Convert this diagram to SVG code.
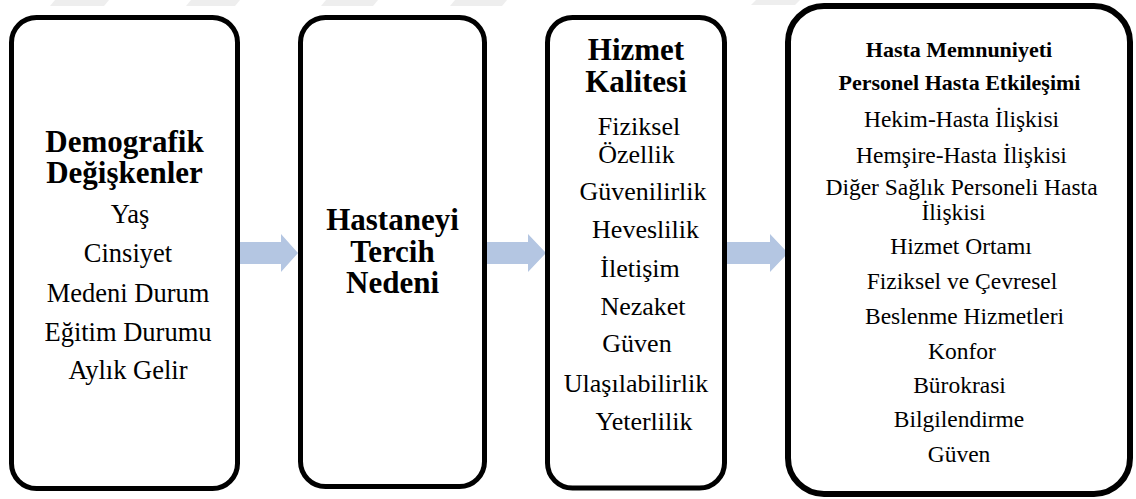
<svg xmlns="http://www.w3.org/2000/svg" width="1136" height="499" viewBox="0 0 1136 499">
  <style>
    .box { fill: #ffffff; stroke: #000000; stroke-width: 5; }
    .wide { stroke-width: 6; }
    .flow { fill: #b4c6e2; }
    .mark { fill: #eeeeee; }
    text { font-family: "Liberation Serif", "DejaVu Serif", serif; font-weight: 400; font-style: normal; fill: #000000; text-anchor: middle; }
    .h1 { font-size: 31px; font-weight: 700; }
    .h2 { font-size: 22px; font-weight: 700; }
    .t1 { font-size: 26.5px; }
    .t2 { font-size: 26px; }
    .t3 { font-size: 23.5px; }
  </style>

  <!-- faint background marks along the top edge -->
  <g id="background">
    <polygon class="mark" points="55,0 109,0 104,6 50,6"/>
    <polygon class="mark" points="191,0 240,0 235,6 186,6"/>
    <polygon class="mark" points="326,0 378,0 373,6 321,6"/>
    <polygon class="mark" points="455,0 507,0 502,6 450,6"/>
    <polygon class="mark" points="756,0 800,0 795,5 751,5"/>
  </g>

  <!-- block arrows between the stages -->
  <g id="connectors">
    <polygon class="flow" points="238,242 281,242 281,234 298,253 281,272 281,264 238,264"/>
    <polygon class="flow" points="485,242 528,242 528,234 546,253 528,272 528,264 485,264"/>
    <polygon class="flow" points="725,242 770,242 770,234 788,253 770,272 770,264 725,264"/>
  </g>

  <g id="demografik">
    <rect class="box" x="11.5" y="17.5" width="226" height="471" rx="25"/>
    <text class="h1" x="124.5" y="152">Demografik</text>
    <text class="h1" x="124.5" y="182.5">Değişkenler</text>
    <text class="t1" x="130" y="223">Yaş</text>
    <text class="t1" x="128" y="262">Cinsiyet</text>
    <text class="t1" x="128" y="301.5">Medeni Durum</text>
    <text class="t1" x="128" y="340.5">Eğitim Durumu</text>
    <text class="t1" x="128" y="379">Aylık Gelir</text>
  </g>

  <g id="tercih">
    <rect class="box" x="300.5" y="17.5" width="184" height="469" rx="25"/>
    <text class="h1" x="392.5" y="230">Hastaneyi</text>
    <text class="h1" x="392.5" y="261.5">Tercih</text>
    <text class="h1" x="392.5" y="293">Nedeni</text>
  </g>

  <g id="kalite">
    <rect class="box" x="547.5" y="17.5" width="177" height="470.5" rx="25"/>
    <text class="h1" x="636" y="60">Hizmet</text>
    <text class="h1" x="636" y="92">Kalitesi</text>
    <text class="t2" x="639" y="135">Fiziksel</text>
    <text class="t2" x="636.5" y="163">Özellik</text>
    <text class="t2" x="643" y="200">Güvenilirlik</text>
    <text class="t2" x="645.5" y="238">Heveslilik</text>
    <text class="t2" x="640" y="277">İletişim</text>
    <text class="t2" x="643" y="315">Nezaket</text>
    <text class="t2" x="637" y="352">Güven</text>
    <text class="t2" x="636" y="392">Ulaşılabilirlik</text>
    <text class="t2" x="644" y="430">Yeterlilik</text>
  </g>

  <g id="memnuniyet">
    <rect class="box wide" x="788" y="6" width="342" height="488" rx="36"/>
    <text class="h2" x="959" y="57">Hasta Memnuniyeti</text>
    <text class="h2" x="959.5" y="90">Personel Hasta Etkileşimi</text>
    <text class="t3" x="961.5" y="127">Hekim-Hasta İlişkisi</text>
    <text class="t3" x="961.5" y="163">Hemşire-Hasta İlişkisi</text>
    <text class="t3" x="961.5" y="195">Diğer Sağlık Personeli Hasta</text>
    <text class="t3" x="953.5" y="220">İlişkisi</text>
    <text class="t3" x="961" y="254">Hizmet Ortamı</text>
    <text class="t3" x="962" y="288.5">Fiziksel ve Çevresel</text>
    <text class="t3" x="964.5" y="323.5">Beslenme Hizmetleri</text>
    <text class="t3" x="962" y="358.5">Konfor</text>
    <text class="t3" x="959.5" y="393">Bürokrasi</text>
    <text class="t3" x="959" y="427">Bilgilendirme</text>
    <text class="t3" x="959" y="462">Güven</text>
  </g>
</svg>
